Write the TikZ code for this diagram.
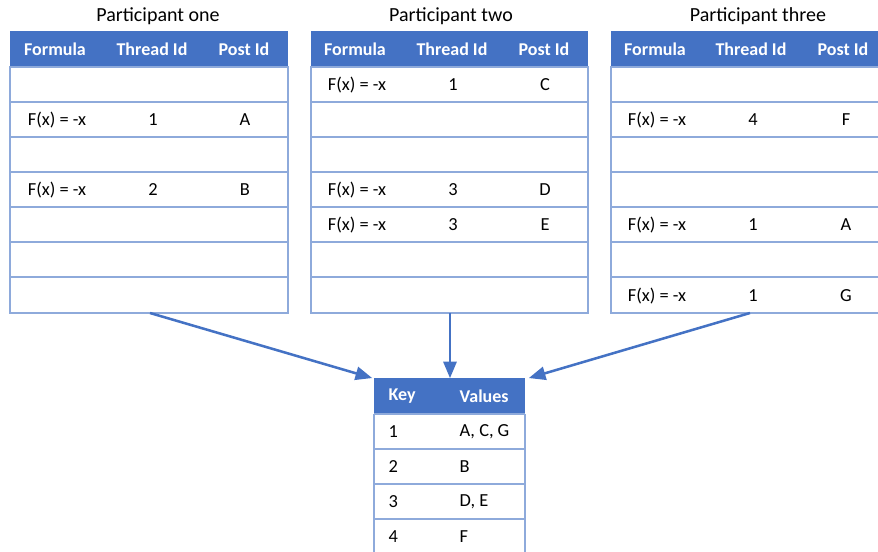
\documentclass[tikz,border=0pt]{standalone}
\usepackage{fontspec}
\setmainfont{Carlito}
\usepackage{tikz}
\usetikzlibrary{arrows}
\definecolor{hdrblue}{HTML}{4472C4}
\definecolor{gridblue}{HTML}{8EAADB}

\begin{document}
\begin{tikzpicture}[x=0.75pt,y=-0.75pt,font=\fontsize{13.8}{16}\selectfont,
	hdr/.style={text=white,font=\fontsize{13.5}{16}\selectfont\bfseries},
	title/.style={font=\fontsize{15}{18}\selectfont},
	grid/.style={draw=gridblue,line width=0.8pt},
	link/.style={-triangle 45,draw=hdrblue,line width=1.9pt}]
			\useasboundingbox (0,0) rectangle (878,552);
			\clip (0,0) rectangle (878,552);
			
			% participant one
			\node (p1title) [title] at (158,16) {Participant one};
			\fill [hdrblue] (10,31) rectangle (288,67);
			\draw [grid] (10,67) rectangle (288,313);
			\draw [grid] (10,102) -- (288,102) (10,137) -- (288,137) (10,172) -- (288,172)
				(10,207) -- (288,207) (10,242) -- (288,242) (10,277) -- (288,277);
			\node (p1h1) [hdr] at (55,49) {Formula};
			\node (p1h2) [hdr] at (152,49) {Thread Id};
			\node (p1h3) [hdr] at (244,49) {Post Id};
			\node (p1a1) at (57,120) {F(x) = -x};
			\node (p1a2) at (153,120) {1};
			\node (p1a3) at (245,120) {A};
			\node (p1b1) at (57,190) {F(x) = -x};
			\node (p1b2) at (153,190) {2};
			\node (p1b3) at (245,190) {B};
			
			% participant two
			\node (p2title) [title] at (451,16) {Participant two};
			\fill [hdrblue] (311,31) rectangle (588,67);
			\draw [grid] (311,67) rectangle (588,313);
			\draw [grid] (311,102) -- (588,102) (311,137) -- (588,137) (311,172) -- (588,172)
				(311,207) -- (588,207) (311,242) -- (588,242) (311,277) -- (588,277);
			\node (p2h1) [hdr] at (355,49) {Formula};
			\node (p2h2) [hdr] at (452,49) {Thread Id};
			\node (p2h3) [hdr] at (544,49) {Post Id};
			\node (p2a1) at (357,85) {F(x) = -x};
			\node (p2a2) at (453,85) {1};
			\node (p2a3) at (545,85) {C};
			\node (p2b1) at (357,190) {F(x) = -x};
			\node (p2b2) at (453,190) {3};
			\node (p2b3) at (545,190) {D};
			\node (p2c1) at (357,225) {F(x) = -x};
			\node (p2c2) at (453,225) {3};
			\node (p2c3) at (545,225) {E};
			
			% participant three
			\node (p3title) [title] at (758,16) {Participant three};
			\fill [hdrblue] (611,31) rectangle (889,67);
			\draw [grid] (611,67) rectangle (889,313);
			\draw [grid] (611,102) -- (889,102) (611,137) -- (889,137) (611,172) -- (889,172)
				(611,207) -- (889,207) (611,242) -- (889,242) (611,277) -- (889,277);
			\node (p3h1) [hdr] at (655,49) {Formula};
			\node (p3h2) [hdr] at (751,49) {Thread Id};
			\node (p3h3) [hdr] at (843,49) {Post Id};
			\node (p3a1) at (657,120) {F(x) = -x};
			\node (p3a2) at (753,120) {4};
			\node (p3a3) at (846,120) {F};
			\node (p3b1) at (657,225) {F(x) = -x};
			\node (p3b2) at (753,225) {1};
			\node (p3b3) at (846,225) {A};
			\node (p3c1) at (657,296) {F(x) = -x};
			\node (p3c2) at (753,296) {1};
			\node (p3c3) at (846,296) {G};
			
			% merged key table
			\fill [hdrblue] (374,378) rectangle (525,414);
			\draw [grid] (374,414) -- (374,560) (525,414) -- (525,560);
			\draw [grid] (374,414) -- (525,414) (374,449) -- (525,449) (374,484) -- (525,484)
				(374,519) -- (525,519);
			\node (kh1) [hdr,anchor=west] at (384,396) {Key};
			\node (kh2) [hdr,anchor=west] at (455,396) {Values};
			\node (k1) [anchor=west] at (384,432) {1};
			\node (v1) [anchor=west] at (455,432) {A, C, G};
			\node (k2) [anchor=west] at (384,467) {2};
			\node (v2) [anchor=west] at (455,467) {B};
			\node (k3) [anchor=west] at (384,502) {3};
			\node (v3) [anchor=west] at (455,502) {D, E};
			\node (k4) [anchor=west] at (384,537) {4};
			\node (v4) [anchor=west] at (455,537) {F};
			
			% arrows
			\coordinate (p1out) at (150,313);
			\coordinate (p2out) at (450,313);
			\coordinate (p3out) at (750,313);
			\coordinate (keyleft) at (372,378);
			\coordinate (keymid) at (450,378);
			\coordinate (keyright) at (529,378);
			\draw [link] (p1out) -- (keyleft);
			\draw [link] (p2out) -- (keymid);
			\draw [link] (p3out) -- (keyright);
\end{tikzpicture}
\end{document}
